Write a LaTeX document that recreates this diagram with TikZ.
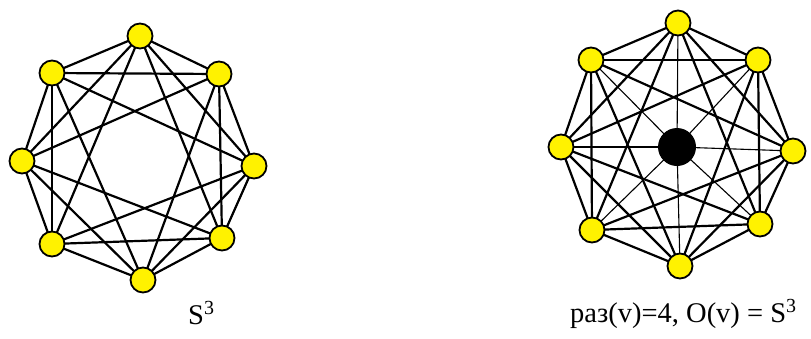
\documentclass[tikz,border=0pt]{standalone}
\usepackage{fontspec}
\setmainfont{Liberation Serif}
\usetikzlibrary{backgrounds}
\begin{document}
\begin{tikzpicture}[x=1pt,y=-1pt,
  vtx/.style={circle,draw=black,line width=1.8pt,fill=yellow,minimum size=25pt,inner sep=0pt},
  hub/.style={circle,fill=black,minimum size=38pt,inner sep=0pt},
  edge/.style={line width=2.2pt,black},
  spoke/.style={line width=1.1pt,black},
  lbl/.style={anchor=base west,inner sep=0pt,font=\fontsize{28.5}{32}\selectfont}]
\useasboundingbox (0,0) rectangle (811,338);
% left graph: order T, UR, R, LR, B, LL, L, UL
\node[vtx] (a0) at (140,36) {};
\node[vtx] (a1) at (219,74) {};
\node[vtx] (a2) at (254,166) {};
\node[vtx] (a3) at (222,238) {};
\node[vtx] (a4) at (143,280) {};
\node[vtx] (a5) at (52,244) {};
\node[vtx] (a6) at (22,161) {};
\node[vtx] (a7) at (52,73) {};
% right graph
\node[vtx] (b0) at (678,23) {};
\node[vtx] (b1) at (758,60) {};
\node[vtx] (b2) at (793,151) {};
\node[vtx] (b3) at (760,224) {};
\node[vtx] (b4) at (680,266) {};
\node[vtx] (b5) at (592,230) {};
\node[vtx] (b6) at (561,147) {};
\node[vtx] (b7) at (591,60) {};
\node[hub] (c) at (677,147) {};
\begin{pgfonlayer}{background}
\foreach \i in {0,...,6}{
  \pgfmathtruncatemacro{\s}{\i+1}
  \foreach \j in {\s,...,7}{
    \pgfmathtruncatemacro{\d}{\j-\i}
    \ifnum\d=4\relax\else
      \draw[edge] (a\i.center) -- (a\j.center);
      \draw[edge] (b\i.center) -- (b\j.center);
    \fi
  }
}
\foreach \i in {0,...,7}{\draw[spoke] (c.center) -- (b\i.center);}
\end{pgfonlayer}
\node[lbl] (s1) at (188,324) {S\textsuperscript{3}};
\node[lbl] (s2) at (570,322) {раз(v)=4, O(v) = S\textsuperscript{3}};
\end{tikzpicture}
\end{document}
